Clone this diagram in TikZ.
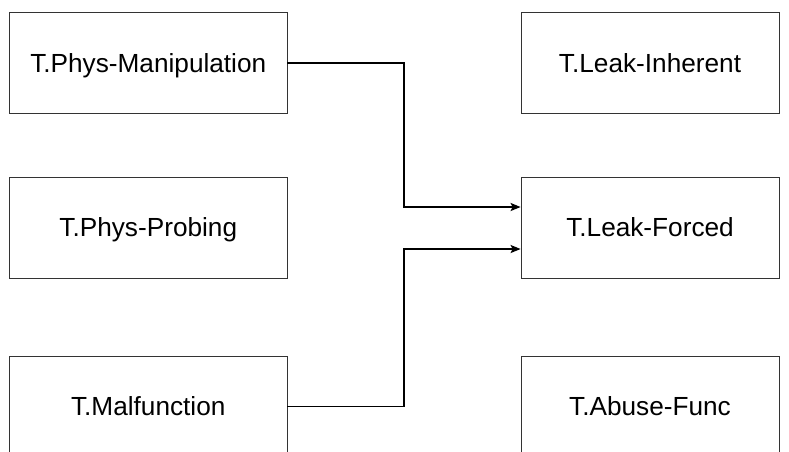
\documentclass[tikz,border=0pt]{standalone}
\usepackage{fontspec}
\setmainfont{Liberation Sans}
\usetikzlibrary{arrows,arrows.meta,positioning}

\begin{document}
\begin{tikzpicture}[x=1pt,y=-1pt]
			\tikzstyle{Threat}	= [rectangle, draw=black!80, line width=0.8pt, fill=white, inner sep=0pt, text height=18.8pt, text depth=0pt, font=\fontsize{26.2}{30}\selectfont]
			\tikzstyle{LeftBox}	= [Threat, minimum width=277.5pt, minimum height=101pt]
			\tikzstyle{RightBox}	= [Threat, minimum width=258pt, minimum height=101pt]
			\tikzstyle{Flow}	= [line width=1.7pt, black]
			
			\clip (0, 0) rectangle (789, 451);
			
			\node (manip) at (148.25, 63) [LeftBox] {T.Phys-Manipulation};
			\node (probe) at (148.25, 227.5) [LeftBox] {T.Phys-Probing};
			\node (malf) at (148.25, 406.5) [LeftBox] {T.Malfunction};
			
			\node (inher) at (650, 63) [RightBox] {T.Leak-Inherent};
			\node (forced) at (650, 227.5) [RightBox] {T.Leak-Forced};
			\node (abuse) at (650, 406.5) [RightBox] {T.Abuse-Func};
			
			\coordinate (inA) at ([yshift=20.5pt]forced.west);
			\coordinate (inB) at ([yshift=-21.5pt]forced.west);
			\coordinate (mid) at (404, 0);
			
			\draw [-{Stealth[length=10pt,width=8pt,inset=2pt]}] (manip.east) -| (mid |- inA) -- (inA) [Flow];
			\draw [-{Stealth[length=10pt,width=8pt,inset=2pt]}] (malf.east) -| (mid |- inB) -- (inB) [Flow];
		\end{tikzpicture}
\end{document}
